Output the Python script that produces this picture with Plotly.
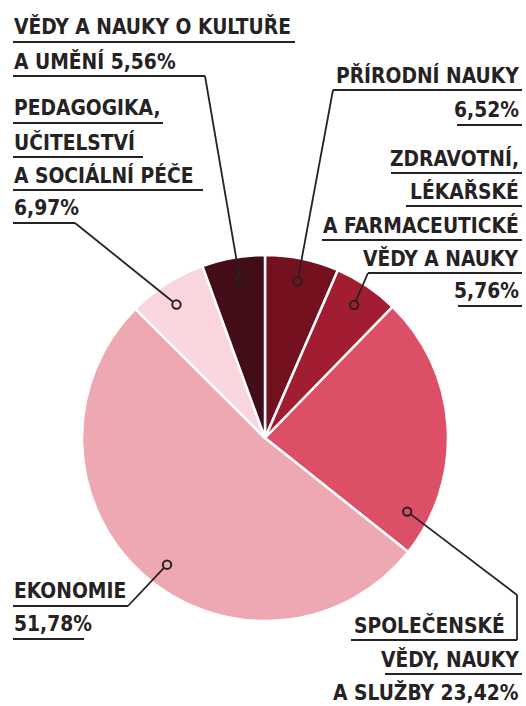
import math
import plotly.graph_objects as go

# ---- data ----
categories = [
    "Přírodní nauky",
    "Zdravotní, lékařské a farmaceutické vědy a nauky",
    "Společenské vědy, nauky a služby",
    "Ekonomie",
    "Pedagogika, učitelství a sociální péče",
    "Vědy a nauky o kultuře a umění",
]
shares = [6.52, 5.76, 23.42, 51.78, 6.97, 5.56]
share_labels = ["6,52%", "5,76%", "23,42%", "51,78%", "6,97%", "5,56%"]
colors = ["#73111f", "#a21d31", "#dd4f67", "#eea8b1", "#f8d6dc", "#420d17"]

# ---- layout (pixels) ----
W, H = 526, 706
CX, CY, R = 265, 438, 183
INK = "#262224"
FONT = "DejaVu Sans Condensed, DejaVu Sans, sans-serif"
FS = 20.8


def px(x, y):
    return x / W, 1 - y / H


# label text lines: (text, x, anchor, underline_y, underline_x0, underline_x1 or None)
label_layout = [
    # Přírodní nauky
    dict(lines=[("PŘÍRODNÍ NAUKY", 520, "right", 90, 333, 522),
                (share_labels[0], 520, "right", 125, 457, 522)],
         anchor=[(333, 90)], offset=0),
    # Zdravotní
    dict(lines=[("ZDRAVOTNÍ,", 520, "right", 173, 391, 522),
                ("LÉKAŘSKÉ", 520, "right", 206, 406, 522),
                ("A FARMACEUTICKÉ", 520, "right", 240, 322, 522),
                ("VĚDY A NAUKY", 520, "right", 273, 368, 522),
                (share_labels[1], 520, "right", 306, 458, 522)],
         anchor=[(368, 273)], offset=0),
    # Společenské
    dict(lines=[("SPOLEČENSKÉ", 506, "right", 640, 351, 517),
                ("VĚDY, NAUKY", 520, "right", 674, 385, 522),
                ("A SLUŽBY " + share_labels[2], 520, "right", 707, None, None)],
         anchor=[(517, 640), (517, 595)], offset=31),
    # Ekonomie
    dict(lines=[("EKONOMIE", 13, "left", 606, 13, 128),
                (share_labels[3], 13, "left", 639, 13, 84)],
         anchor=[(128, 606)], offset=-4),
    # Pedagogika
    dict(lines=[("PEDAGOGIKA,", 13, "left", 123, 13, 163),
                ("UČITELSTVÍ", 13, "left", 157, 13, 143),
                ("A SOCIÁLNÍ PÉČE", 13, "left", 190, 13, 203),
                (share_labels[4], 13, "left", 223, 13, 75)],
         anchor=[(75, 223)], offset=-1),
    # Vědy a nauky o kultuře
    dict(lines=[("VĚDY A NAUKY O KULTUŘE", 13, "left", 42, 13, 295),
                ("A UMĚNÍ " + share_labels[5], 13, "left", 76, 13, 205)],
         anchor=[(205, 76)], offset=1),
]

fig = go.Figure()
x0, y1 = px(CX - R, CY - R)
x1, y0 = px(CX + R, CY + R)
fig.add_trace(go.Pie(
    labels=categories, values=shares, sort=False, direction="clockwise",
    rotation=0, textinfo="none", hoverinfo="label+percent",
    marker=dict(colors=colors, line=dict(color="white", width=2.5)),
    domain=dict(x=[x0, x1], y=[y0, y1]), showlegend=False,
))

shapes = []
annotations = []
total = sum(shares)
cum = 0
RC = 4.2
for i, v in enumerate(shares):
    lab = label_layout[i]
    theta = math.radians((cum + v / 2) / total * 360 + lab["offset"])
    cum += v
    dist = R * 0.875
    mx = CX + dist * math.sin(theta)
    my = CY - dist * math.cos(theta)
    # text lines + underlines
    for (txt, tx, anc, uy, ux0, ux1) in lab["lines"]:
        ax, ay = px(tx, uy - 15)
        annotations.append(dict(
            x=ax, y=ay, xref="paper", yref="paper", text=txt, showarrow=False,
            xanchor=anc, yanchor="middle",
            font=dict(family=FONT, size=FS, color=INK, weight="bold"),
            borderpad=0,
        ))
        if ux0 is not None:
            a, b = px(ux0, uy)
            c, d = px(ux1, uy)
            shapes.append(dict(type="line", xref="paper", yref="paper",
                               x0=a, y0=b, x1=c, y1=d, layer="above",
                               line=dict(color=INK, width=1.8)))
    # leader
    pts = list(lab["anchor"])
    lx, ly = pts[-1]
    dx, dy = mx - lx, my - ly
    L = math.hypot(dx, dy)
    ex, ey = mx - dx / L * RC, my - dy / L * RC
    pts.append((ex, ey))
    for (p, q) in zip(pts[:-1], pts[1:]):
        a, b = px(*p)
        c, d = px(*q)
        shapes.append(dict(type="line", xref="paper", yref="paper",
                           x0=a, y0=b, x1=c, y1=d, layer="above",
                           line=dict(color=INK, width=1.8)))
    a, b = px(mx - RC, my - RC)
    c, d = px(mx + RC, my + RC)
    shapes.append(dict(type="circle", xref="paper", yref="paper",
                       x0=a, y0=d, x1=c, y1=b, layer="above",
                       line=dict(color=INK, width=2)))

fig.update_layout(
    width=W, height=H, margin=dict(l=0, r=0, t=0, b=0),
    paper_bgcolor="white", plot_bgcolor="white",
    shapes=shapes, annotations=annotations,
)
fig.write_html("out.html", config={"displayModeBar": False},
               post_script="document.body.style.margin='0px';")
